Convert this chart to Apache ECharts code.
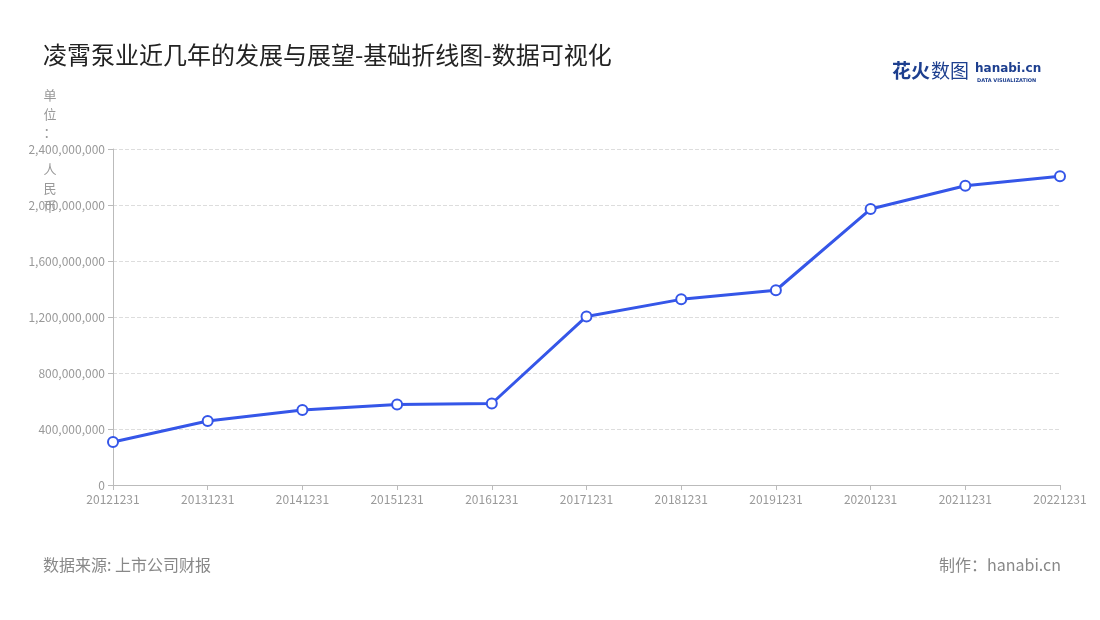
<!DOCTYPE html>
<html><head><meta charset="utf-8">
<script src="https://cdn.jsdelivr.net/npm/echarts@6/dist/echarts.min.js"></script>
<style>html,body{margin:0;padding:0;background:#fff}#c{width:1100px;height:620px}</style>
</head><body><div id="c"></div>
<script>
const categories = ['20121231','20131231','20141231','20151231','20161231','20171231','20181231','20191231','20201231','20211231','20221231'];
const values = [307000000, 457000000, 536000000, 575000000, 582000000, 1204000000, 1326000000, 1391000000, 1971000000, 2138000000, 2205000000];
const yTicks = { min: 0, max: 2400000000, interval: 400000000 };
const unitLabel = '单\n位\n：\n \n人\n民\n币';

const chart = echarts.init(document.getElementById('c'));
const font = '"Noto Sans CJK SC","Noto Sans",sans-serif';
chart.setOption({
  backgroundColor: '#fff',
  textStyle: { fontFamily: font },
  title: {
    text: '凌霄泵业近几年的发展与展望-基础折线图-数据可视化',
    left: 38, top: 38,
    textStyle: { fontSize: 24, fontWeight: 'normal', color: '#222', fontFamily: font }
  },
  graphic: [
    { type: 'text', left: 892, top: 61, style: { text: '花火', font: 'bold 19px "Noto Sans CJK SC"', fill: '#1d3f8f' } },
    { type: 'text', left: 931, top: 61, style: { text: '数图', font: '19px "Noto Sans CJK SC"', fill: '#1d3f8f' } },
    { type: 'text', left: 975, top: 63, style: { text: 'hanabi.cn', font: 'bold 12px "DejaVu Sans"', fill: '#1d3f8f' } },
    { type: 'text', left: 977, top: 78, style: { text: 'DATA VISUALIZATION', font: 'bold 5px "DejaVu Sans"', fill: '#1d3f8f' } },
    { type: 'text', x: 50, y: 86, style: { text: unitLabel, font: '13px "Noto Sans CJK SC"', fill: '#999', align: 'center', lineHeight: 18.5 } },
    { type: 'text', left: 43, top: 557, style: { text: '数据来源: 上市公司财报', font: '16px "Noto Sans CJK SC"', fill: '#888' } },
    { type: 'text', right: 39, top: 557, style: { text: '制作：hanabi.cn', font: '16px "Noto Sans CJK SC"', fill: '#888' } }
  ],
  grid: { left: 113, right: 40, top: 149, bottom: 135, containLabel: false },
  xAxis: {
    type: 'category',
    data: categories,
    boundaryGap: false,
    axisLine: { lineStyle: { color: '#bbb' } },
    axisTick: { alignWithLabel: true, lineStyle: { color: '#bbb' } },
    axisLabel: { color: '#999', fontSize: 12, margin: 8 }
  },
  yAxis: {
    type: 'value',
    min: yTicks.min, max: yTicks.max, interval: yTicks.interval,
    axisLine: { show: true, lineStyle: { color: '#bbb' } },
    axisTick: { show: true, lineStyle: { color: '#bbb' } },
    axisLabel: { color: '#999', fontSize: 12, formatter: v => v.toLocaleString('en-US') },
    splitLine: { lineStyle: { color: '#ddd', type: 'dashed' } }
  },
  series: [{
    type: 'line',
    data: values,
    symbol: 'circle',
    symbolSize: 10,
    itemStyle: { color: '#fff', borderColor: '#3556e8', borderWidth: 2 },
    lineStyle: { color: '#3556e8', width: 3 },
    emphasis: { disabled: true }
  }]
});
</script></body></html>
